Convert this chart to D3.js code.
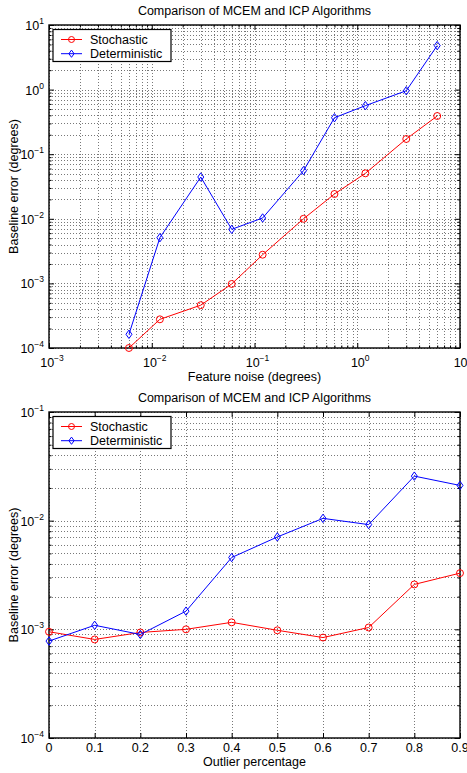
<!DOCTYPE html>
<html>
<head>
<meta charset="utf-8">
<script src="https://cdn.jsdelivr.net/npm/d3@7"></script>
<style>
  body { margin: 0; background: #fff; }
  svg { display: block; }
  text { font-family: "Liberation Sans", Arial, Helvetica, sans-serif; fill: #000; }
</style>
</head>
<body>
<div id="chart"></div>
<script>
// chart data
var chartTitle = "Comparison of MCEM and ICP Algorithms";
var seriesNames = ["Stochastic", "Deterministic"];

// top panel - feature noise
var noiseLevels = [0.006, 0.012, 0.03, 0.06, 0.12, 0.3, 0.6, 1.2, 3, 6];
var noiseStochastic = [1.0e-4, 2.78e-4, 4.6e-4, 9.8e-4, 2.78e-3, 1.0e-2, 2.42e-2, 5.06e-2, 0.172, 0.39];
var noiseDeterministic = [1.63e-4, 5.1e-3, 0.0443, 6.87e-3, 0.0103, 0.0556, 0.367, 0.564, 0.96, 4.8];
var noiseXTicks = [1e-3, 1e-2, 1e-1, 1, 10];
var noiseYTicks = [1e-4, 1e-3, 1e-2, 1e-1, 1, 10];

// bottom panel - outliers
var outlierLevels = [0, 0.1, 0.2, 0.3, 0.4, 0.5, 0.6, 0.7, 0.8, 0.9];
var outlierStochastic = [9.5e-4, 8.07e-4, 9.36e-4, 1.0e-3, 1.16e-3, 9.8e-4, 8.4e-4, 1.04e-3, 2.59e-3, 3.29e-3];
var outlierDeterministic = [7.8e-4, 1.09e-3, 8.97e-4, 1.47e-3, 4.58e-3, 7.08e-3, 1.05e-2, 9.2e-3, 2.57e-2, 2.11e-2];
var outlierXTicks = [0, 0.1, 0.2, 0.3, 0.4, 0.5, 0.6, 0.7, 0.8, 0.9];
var outlierYTicks = [1e-4, 1e-3, 1e-2, 1e-1];

var svgWidth = 467, svgHeight = 773;
var colors = ["#ff0000", "#0000ff"];
var fontSize = 12.5;

var svg = d3.select("#chart").append("svg")
    .attr("width", svgWidth)
    .attr("height", svgHeight);

// minor values between decades
function logMinors(ticks) {
  var out = [];
  for (var i = 0; i < ticks.length - 1; i++) {
    for (var k = 2; k <= 9; k++) out.push(ticks[i] * k);
  }
  return out;
}

// "10" with a superscript exponent
function powerLabel(sel, v) {
  var e = Math.round(Math.log10(v));
  sel.text("10");
  sel.append("tspan")
    .attr("dy", -6)
    .style("font-size", "8.5px")
    .text(String(e).replace("-", "\u2212"));
}

function drawPanel(p) {
  var w = p.right - p.left, h = p.bottom - p.top;
  var g = svg.append("g").attr("transform", "translate(" + p.left + "," + p.top + ")");

  var x = p.xLog ? d3.scaleLog() : d3.scaleLinear();
  x.domain([p.xTicks[0], p.xTicks[p.xTicks.length - 1]]).range([0, w]);
  var y = d3.scaleLog().domain([p.yTicks[0], p.yTicks[p.yTicks.length - 1]]).range([h, 0]);

  var xGrid = p.xLog ? p.xTicks.concat(logMinors(p.xTicks)) : p.xTicks;
  var yGrid = p.yTicks.concat(logMinors(p.yTicks));

  // dotted grid
  var grid = g.append("g").attr("class", "grid")
    .attr("stroke", "#555").attr("stroke-width", 0.8).attr("stroke-dasharray", "1,2");
  grid.selectAll(".gx").data(xGrid).enter().append("line")
    .attr("x1", function(d) { return Math.round(x(d)) + 0.5; })
    .attr("x2", function(d) { return Math.round(x(d)) + 0.5; })
    .attr("y1", 0).attr("y2", h);
  grid.selectAll(".gy").data(yGrid).enter().append("line")
    .attr("y1", function(d) { return Math.round(y(d)) + 0.5; })
    .attr("y2", function(d) { return Math.round(y(d)) + 0.5; })
    .attr("x1", 0).attr("x2", w);

  // inward ticks on all four sides
  var noFmt = function() { return ""; };
  g.append("g").attr("transform", "translate(0," + h + ")")
    .call(d3.axisBottom(x).tickValues(p.xTicks).tickSize(-5).tickFormat(noFmt));
  g.append("g")
    .call(d3.axisTop(x).tickValues(p.xTicks).tickSize(-5).tickFormat(noFmt));
  g.append("g")
    .call(d3.axisLeft(y).tickValues(p.yTicks).tickSize(-5).tickFormat(noFmt));
  g.append("g").attr("transform", "translate(" + w + ",0)")
    .call(d3.axisRight(y).tickValues(p.yTicks).tickSize(-5).tickFormat(noFmt));
  // minor ticks
  g.append("g").call(d3.axisLeft(y).tickValues(logMinors(p.yTicks)).tickSize(-2.5).tickFormat(noFmt));
  g.append("g").attr("transform", "translate(" + w + ",0)")
    .call(d3.axisRight(y).tickValues(logMinors(p.yTicks)).tickSize(-2.5).tickFormat(noFmt));
  if (p.xLog) {
    g.append("g").attr("transform", "translate(0," + h + ")")
      .call(d3.axisBottom(x).tickValues(logMinors(p.xTicks)).tickSize(-2.5).tickFormat(noFmt));
    g.append("g")
      .call(d3.axisTop(x).tickValues(logMinors(p.xTicks)).tickSize(-2.5).tickFormat(noFmt));
  }
  g.selectAll(".domain").remove();
  g.selectAll(".tick line").attr("stroke", "#000").attr("stroke-width", 1);

  // frame
  g.append("rect").attr("width", w).attr("height", h)
    .attr("fill", "none").attr("stroke", "#000").attr("stroke-width", 1.4);

  // tick labels
  g.selectAll(".ylab").data(p.yTicks).enter().append("text")
    .attr("x", -5)
    .attr("y", function(d) { return y(d) + 5; })
    .attr("text-anchor", "end")
    .style("font-size", fontSize + "px")
    .each(function(d) { powerLabel(d3.select(this), d); });
  g.selectAll(".xlab").data(p.xTicks).enter().append("text")
    .attr("x", function(d) { return x(d) + (p.xLog ? 3 : 0); })
    .attr("y", h + (p.xLog ? 19 : 14))
    .attr("text-anchor", "middle")
    .style("font-size", fontSize + "px")
    .each(function(d) {
      if (p.xLog) powerLabel(d3.select(this), d);
      else d3.select(this).text(d3.format("")(d));
    });

  // titles
  g.append("text").attr("x", w / 2).attr("y", -10)
    .attr("text-anchor", "middle").style("font-size", fontSize + "px").text(chartTitle);
  g.append("text").attr("x", w / 2).attr("y", h + p.xLabelDy)
    .attr("text-anchor", "middle").style("font-size", fontSize + "px").text(p.xLabel);
  g.append("text")
    .attr("transform", "translate(" + (18 - p.left) + "," + (h / 2) + ") rotate(-90)")
    .attr("text-anchor", "middle").style("font-size", fontSize + "px").text(p.yLabel);

  // series
  var line = d3.line()
    .x(function(d) { return x(d[0]); })
    .y(function(d) { return y(d[1]); });
  p.series.forEach(function(vals, i) {
    var pts = p.xValues.map(function(xv, j) { return [xv, vals[j]]; });
    g.append("path").datum(pts)
      .attr("d", line).attr("fill", "none")
      .attr("stroke", colors[i]).attr("stroke-width", 1);
    var m = g.selectAll(".m" + i).data(pts).enter().append("path")
      .attr("transform", function(d) { return "translate(" + x(d[0]) + "," + y(d[1]) + ")"; })
      .attr("fill", "none").attr("stroke", colors[i]).attr("stroke-width", 1);
    if (i === 0) m.attr("d", d3.symbol(d3.symbolCircle, 38));
    else m.attr("d", "M0,-4.2L3,0L0,4.2L-3,0Z");
  });

  // legend
  var lg = g.append("g").attr("transform", "translate(4,4.5)");
  lg.append("rect").attr("width", 118).attr("height", 32)
    .attr("fill", "#fff").attr("stroke", "#000").attr("stroke-width", 1.2);
  seriesNames.forEach(function(name, i) {
    var ry = 10 + i * 14.2;
    lg.append("line").attr("x1", 8).attr("x2", 29).attr("y1", ry).attr("y2", ry)
      .attr("stroke", colors[i]).attr("stroke-width", 1);
    var mk = lg.append("path").attr("transform", "translate(18.5," + ry + ")")
      .attr("fill", "none").attr("stroke", colors[i]).attr("stroke-width", 1);
    if (i === 0) mk.attr("d", d3.symbol(d3.symbolCircle, 28));
    else mk.attr("d", "M0,-3.6L2.6,0L0,3.6L-2.6,0Z");
    lg.append("text").attr("x", 37).attr("y", ry + 4.5)
      .style("font-size", fontSize + "px").text(name);
  });
}

drawPanel({
  left: 49, right: 460, top: 25, bottom: 348,
  xLog: true, xTicks: noiseXTicks, yTicks: noiseYTicks,
  xValues: noiseLevels, series: [noiseStochastic, noiseDeterministic],
  xLabel: "Feature noise (degrees)", xLabelDy: 33, yLabel: "Baseline error (degrees)"
});
drawPanel({
  left: 49, right: 460, top: 412, bottom: 738,
  xLog: false, xTicks: outlierXTicks, yTicks: outlierYTicks,
  xValues: outlierLevels, series: [outlierStochastic, outlierDeterministic],
  xLabel: "Outlier percentage", xLabelDy: 28, yLabel: "Baseline error (degrees)"
});
</script>
</body>
</html>
